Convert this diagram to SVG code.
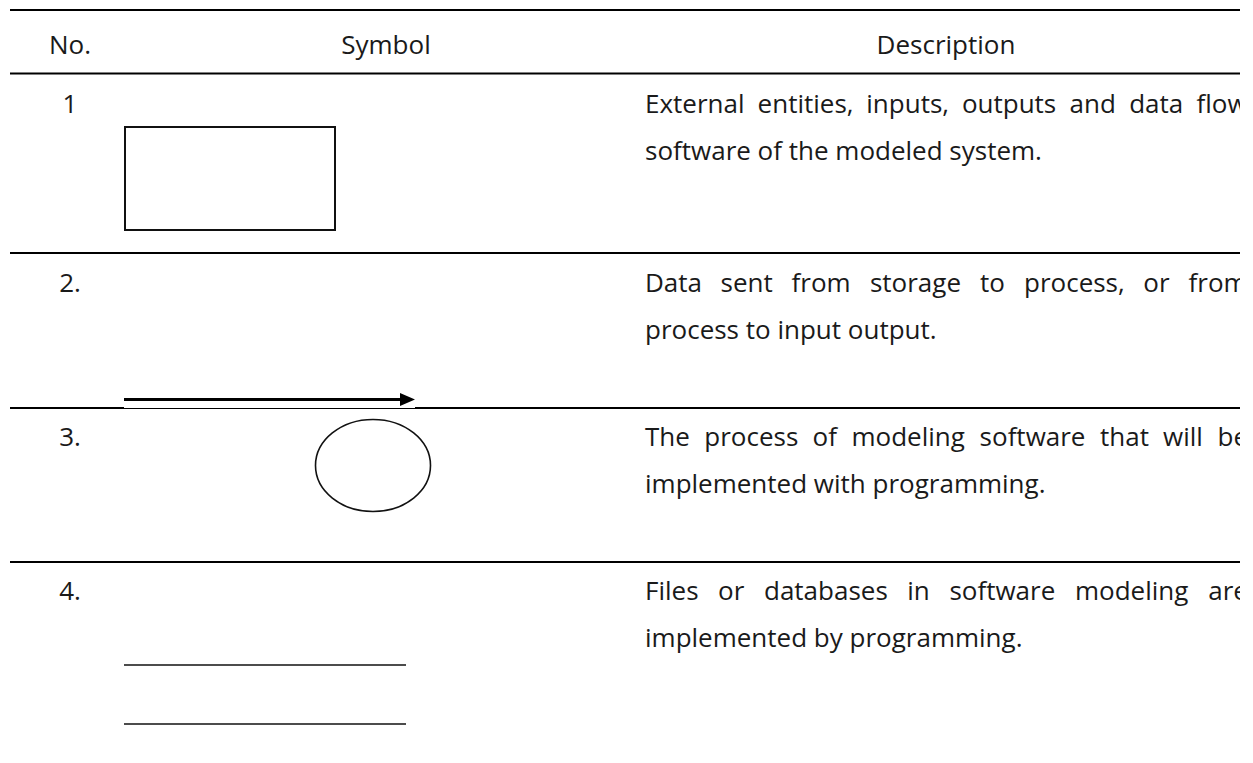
<svg xmlns="http://www.w3.org/2000/svg" width="1253" height="763" viewBox="0 0 1253 763">
  <style>
    .txt { font-family: "Open Sans", "Noto Sans", "Liberation Sans", sans-serif; font-size: 26px; fill: #1a1a1a; }
    .mid { text-anchor: middle; }
    .rule { stroke: #000; stroke-width: 2; fill: none; }
    .sym { fill: none; stroke: #111; }
  </style>
  <defs>
    <clipPath id="tableClip">
      <rect x="0" y="0" width="1240" height="763"/>
    </clipPath>
  </defs>
  <rect x="0" y="0" width="1253" height="763" fill="#fff"/>

  <g clip-path="url(#tableClip)">
    <!-- horizontal table rules -->
    <g id="rules">
      <line class="rule" x1="10" y1="10" x2="1240" y2="10"/>
      <line class="rule" x1="10" y1="73.5" x2="1240" y2="73.5"/>
      <line class="rule" x1="10" y1="253" x2="1240" y2="253"/>
      <line class="rule" x1="10" y1="408" x2="1240" y2="408"/>
      <line class="rule" x1="10" y1="562" x2="1240" y2="562"/>
    </g>

    <!-- column headers -->
    <g id="header">
      <text class="txt mid" x="70" y="54">No.</text>
      <text class="txt mid" x="386" y="54">Symbol</text>
      <text class="txt mid" x="946" y="54">Description</text>
    </g>

    <!-- row 1: external entity -->
    <g id="row1">
      <text class="txt mid" x="70" y="113">1</text>
      <rect class="sym" x="125" y="127" width="210" height="103" stroke-width="2"/>
      <text class="txt" y="113"><tspan x="645">External</tspan><tspan x="757.6">entities,</tspan><tspan x="866.3">inputs,</tspan><tspan x="961.9">outputs</tspan><tspan x="1069.5">and</tspan><tspan x="1129.2">data</tspan><tspan x="1196.5">flow</tspan></text>
      <text class="txt" x="645" y="160">software of the modeled system.</text>
    </g>

    <!-- row 2: data flow -->
    <g id="row2">
      <text class="txt mid" x="70" y="292">2.</text>
      <!-- arrow symbol sits on a white backing that covers part of the rule -->
      <rect x="124" y="390" width="291" height="18" fill="#fff"/>
      <line x1="124" y1="399.5" x2="402" y2="399.5" stroke="#000" stroke-width="3"/>
      <polygon points="400,393 415,399.5 400,406" fill="#000"/>
      <text class="txt" y="292"><tspan x="645">Data</tspan><tspan x="720.5">sent</tspan><tspan x="791.6">from</tspan><tspan x="869.9">storage</tspan><tspan x="980.1">to</tspan><tspan x="1024">process,</tspan><tspan x="1143.3">or</tspan><tspan x="1188.6">from</tspan></text>
      <text class="txt" x="645" y="339">process to input output.</text>
    </g>

    <!-- row 3: process -->
    <g id="row3">
      <text class="txt mid" x="70" y="446">3.</text>
      <ellipse class="sym" cx="373" cy="465.5" rx="57.5" ry="46" stroke="#333" stroke-width="1.6"/>
      <text class="txt" y="446"><tspan x="645">The</tspan><tspan x="704.3">process</tspan><tspan x="812.6">of</tspan><tspan x="851.5">modeling</tspan><tspan x="979.6">software</tspan><tspan x="1100">that</tspan><tspan x="1163.1">will</tspan><tspan x="1217.5">be</tspan></text>
      <text class="txt" x="645" y="493">implemented with programming.</text>
    </g>

    <!-- row 4: data store -->
    <g id="row4">
      <text class="txt mid" x="70" y="600">4.</text>
      <line x1="124" y1="665" x2="406" y2="665" stroke="#111" stroke-width="1.6"/>
      <line x1="124" y1="724" x2="406" y2="724" stroke="#111" stroke-width="1.6"/>
      <text class="txt" y="600"><tspan x="645">Files</tspan><tspan x="718.1">or</tspan><tspan x="764">databases</tspan><tspan x="907.3">in</tspan><tspan x="949.4">software</tspan><tspan x="1075">modeling</tspan><tspan x="1208.3">are</tspan></text>
      <text class="txt" x="645" y="647">implemented by programming.</text>
    </g>
  </g>
</svg>
